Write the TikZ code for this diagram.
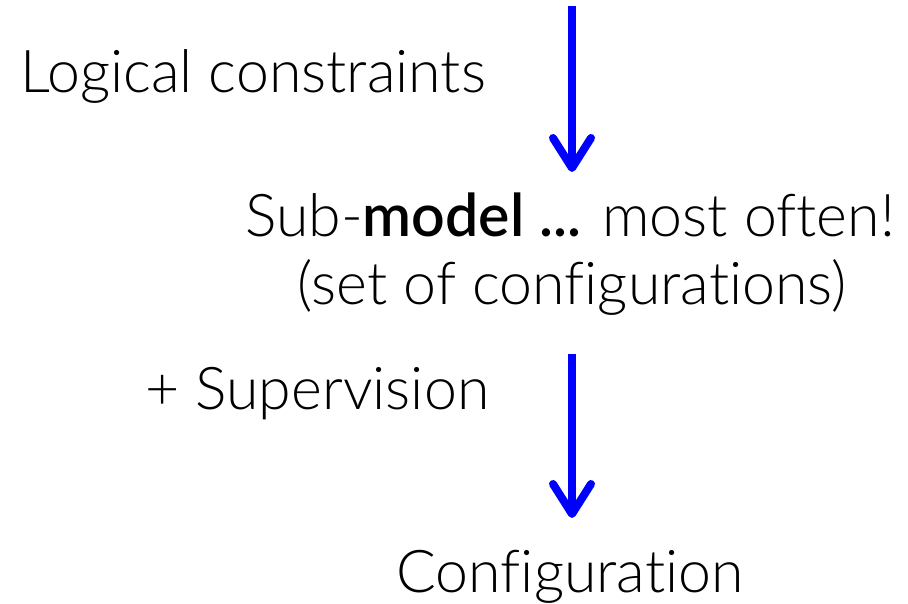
\documentclass[tikz,border=0pt]{standalone}
\usepackage{fontspec}
\setmainfont{Lato}[UprightFont=* Light,BoldFont=* Semibold,Ligatures=NoCommon]
\usepackage{tikz}
\usetikzlibrary{arrows.meta}

\tikzset{
  txt/.style={inner sep=0pt,font=\fontsize{59}{66}\selectfont},
  flow/.style={draw=blue,line width=8pt,-{Straight Barb[length=30pt,width=38pt,round]}}
}

\begin{document}
\begin{tikzpicture}[x=1pt,y=1pt]
  \useasboundingbox (0,0) rectangle (908,604);
  \node[txt,anchor=base west] at(20,511)(logic){Logical constraints};
  \node[txt,anchor=base] at(570,367)(sub){Sub-\textbf{model ...} most often!};
  \node[txt,anchor=base] at(572,299)(set){(set of configurations)};
  \node[txt,anchor=base west] at(145,194)(sup){+ Supervision};
  \node[txt,anchor=base] at(570,11)(conf){Configuration};
  \coordinate (a1) at(572,598);
  \coordinate (a2) at(572,432);
  \coordinate (b1) at(572,250);
  \coordinate (b2) at(572,86);
  \draw [flow](a1) -- (a2);
  \draw [flow](b1) -- (b2);
\end{tikzpicture}
\end{document}
